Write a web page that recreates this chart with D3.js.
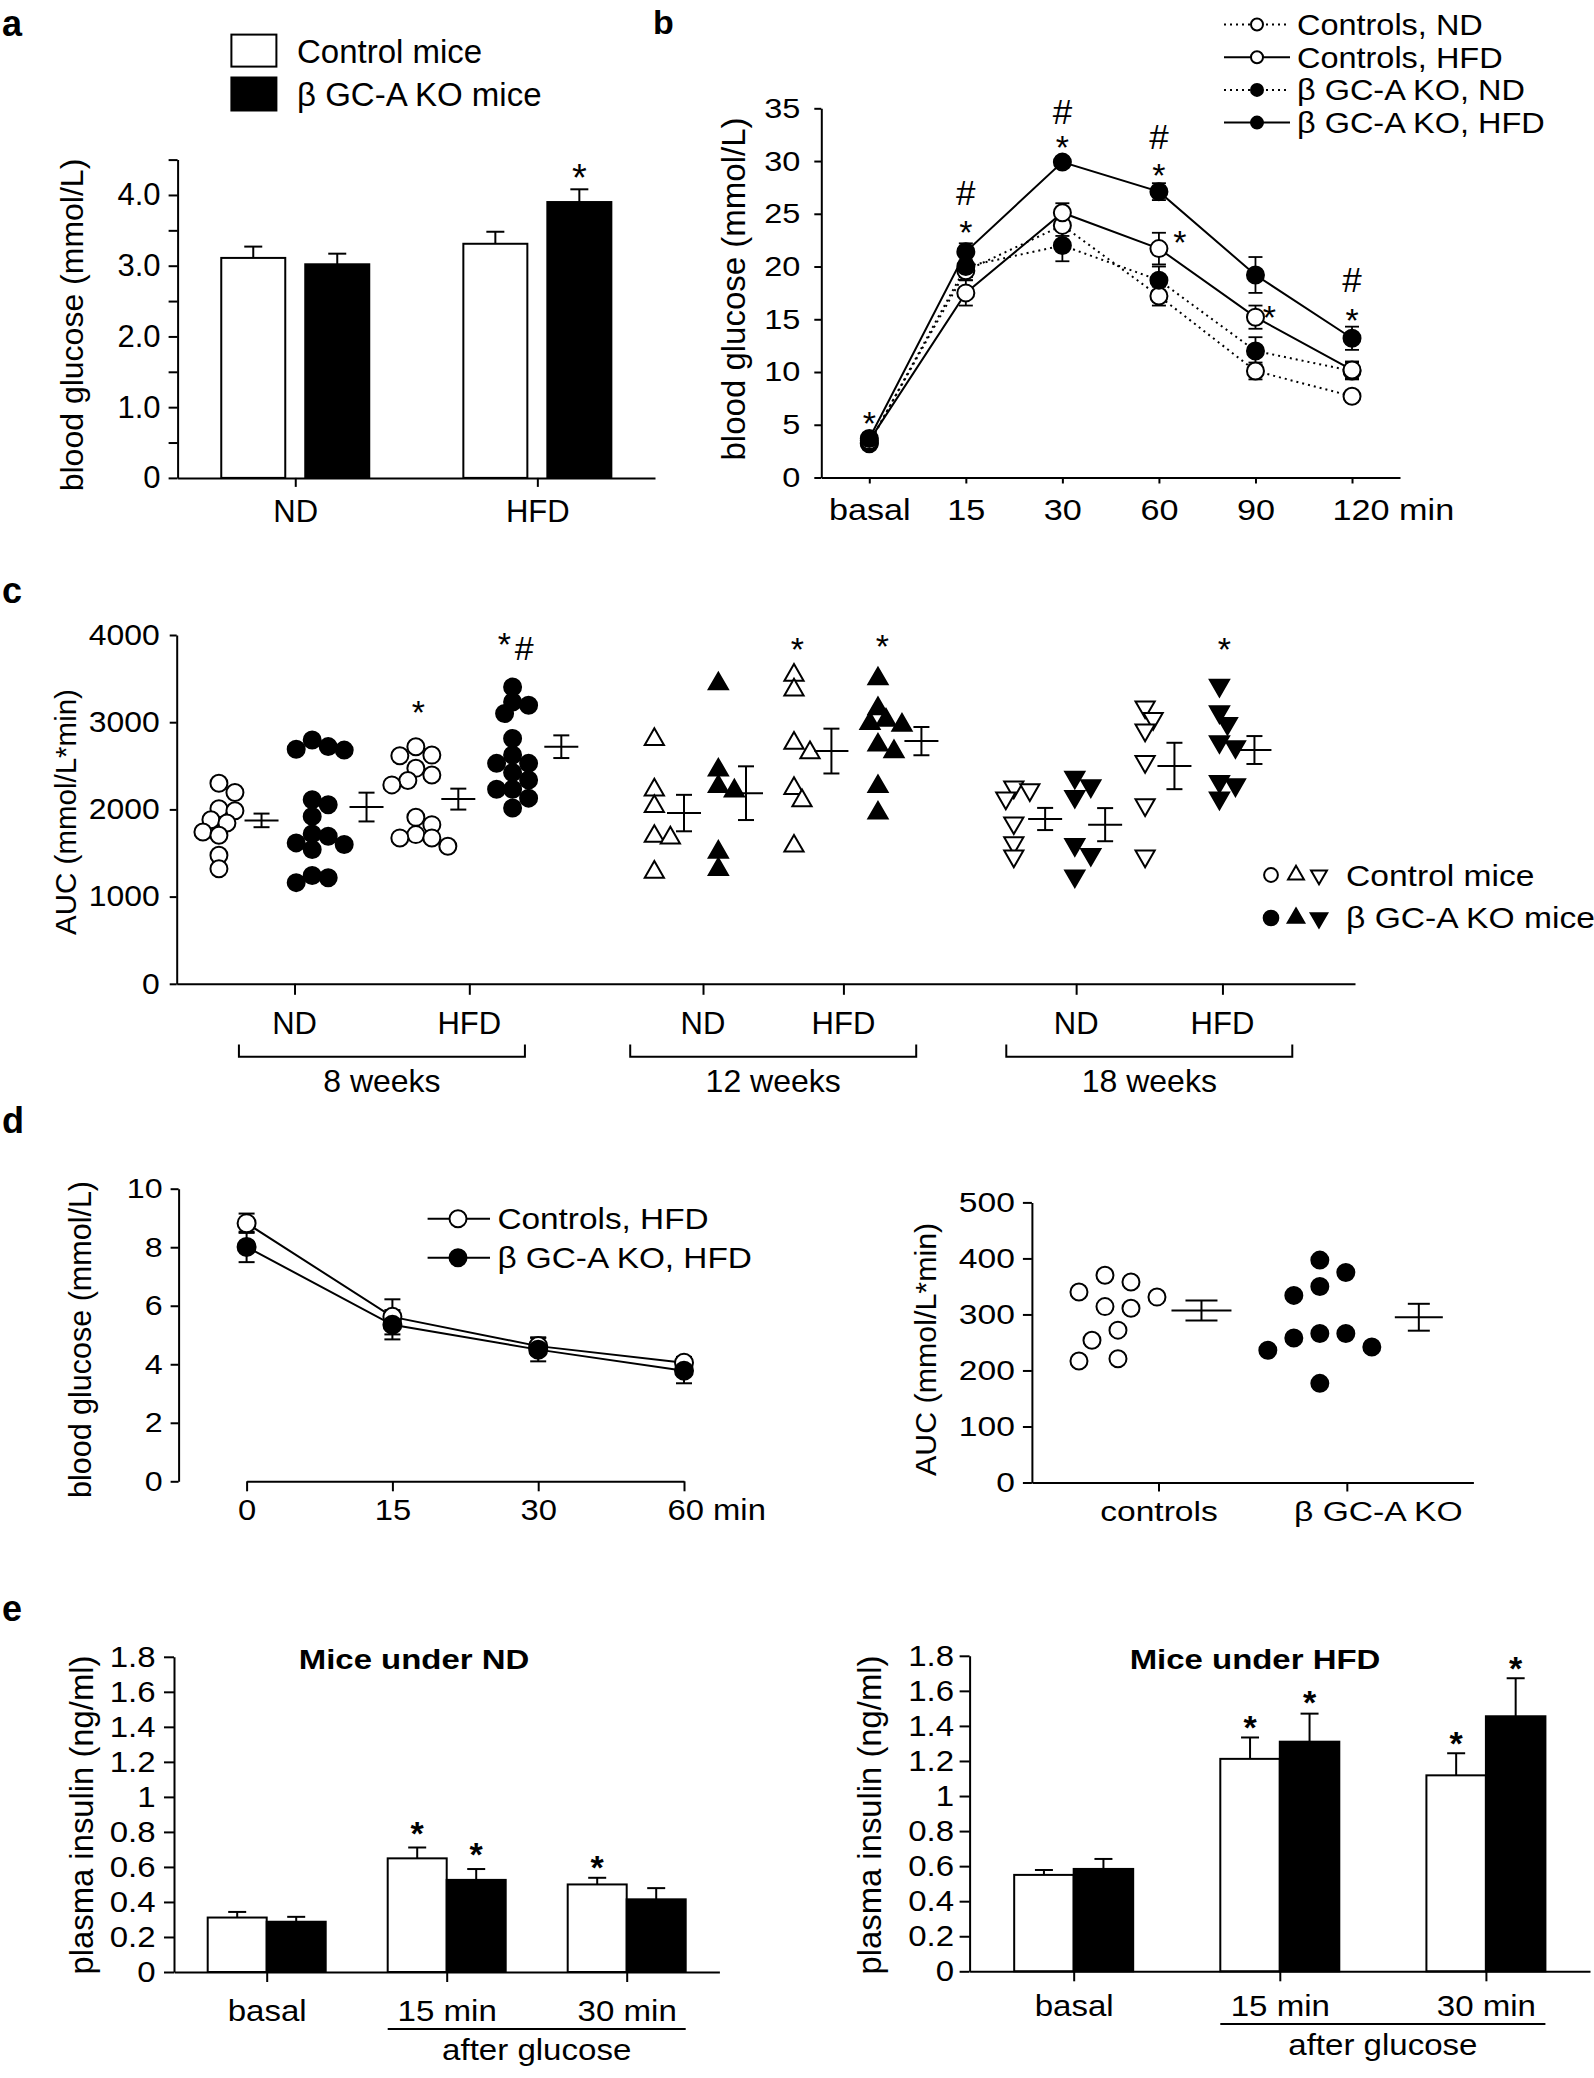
<!DOCTYPE html>
<html>
<head>
<meta charset="utf-8">
<script src="https://cdn.jsdelivr.net/npm/d3@7"></script>
<style>
  html, body { margin: 0; padding: 0; background: #fff; }
  svg { display: block; }
</style>
</head>
<body>
<script>
// ---------------- data ----------------
// a: fasting blood glucose
const dietCats = ["ND", "HFD"];
const aCtrl = [3.11, 3.31];
const aCtrlErr = [0.16, 0.17];
const aKo = [3.02, 3.90];
const aKoErr = [0.15, 0.18];

// b: glucose tolerance test
const ogttTimes = ["basal", "15", "30", "60", "90", "120"];
const bCtrlND = [3.3, 19.6, 23.9, 17.2, 10.1, 7.7];
const bCtrlNDErr = [0.4, 0.9, 1.0, 0.9, 0.8, 0.5];
const bCtrlHFD = [3.5, 17.5, 25.1, 21.7, 15.2, 10.2];
const bCtrlHFDErr = [0.4, 1.2, 0.9, 1.5, 1.1, 0.8];
const bKoND = [3.2, 20.0, 22.0, 18.7, 12.0, 10.1];
const bKoNDErr = [0.4, 1.0, 1.5, 1.3, 1.3, 0.8];
const bKoHFD = [3.7, 21.4, 29.9, 27.1, 19.2, 13.2];
const bKoHFDErr = [0.5, 0.8, 0.5, 0.8, 1.7, 1.1];
const bMarks = [
  ["basal", 6.0, "*"], ["15", 24.1, "*"], ["15", 27.0, "#"],
  ["30", 32.1, "*"], ["30", 34.7, "#"], ["60", 29.5, "*"], ["60", 32.3, "#"],
  ["120", 15.7, "*"], ["120", 18.8, "#"]
];
const bSideMarks = [["60", 23.1, "*"], ["90", 16.0, "*"]];

// c: AUC of GTT per animal
const cGroups = ["ND", "HFD", "ND", "HFD", "ND", "HFD"];
const cWeeks = ["8 weeks", "12 weeks", "18 weeks"];
const cCtrlPts = [
  [2194, 2300, 1882, 1985, 2008, 1844, 1741, 1703, 1475, 1319],
  [2616, 2623, 2719, 2471, 2395, 2281, 2331, 1909, 1825, 1711, 1673, 1673, 1578],
  [2802, 2224, 2034, 1692, 1673, 1281],
  [3540, 3370, 2760, 2650, 2240, 2100, 1580],
  [2224, 2129, 2255, 1844, 1616, 1464],
  [3175, 3042, 2909, 2548, 2053, 1464]
];
const cKoPts = [
  [2795, 2720, 2690, 2680, 2110, 2053, 1920, 1692, 1719, 1616, 1597, 1540, 1243, 1160, 1217],
  [3403, 3232, 3194, 3099, 2814, 2623, 2528, 2528, 2422, 2338, 2232, 2232, 2129, 2015],
  [3441, 2452, 2262, 2213, 1509, 1312],
  [3498, 3156, 3023, 2985, 2966, 2738, 2662, 2262, 1958],
  [2369, 2270, 2148, 1597, 1483, 1236],
  [3422, 3118, 2985, 2776, 2719, 2320, 2281, 2129]
];
const cCtrlMean = [1874, 2118, 1958, 2669, 1890, 2498];
const cCtrlSem = [78, 120, 209, 257, 127, 266];
const cKoMean = [2027, 2719, 2186, 2783, 1825, 2681];
const cKoSem = [165, 130, 308, 162, 190, 160];
// [group index, "ctrl"|"ko", value at glyph centre, symbol]
const cMarks = [[1, "ctrl", 3213, "*"], [3, "ctrl", 3935, "*"], [3, "ko", 3973, "*"], [5, "ko", 3935, "*"]];

// d: insulin tolerance test
const ittTimes = ["0", "15", "30", "60"];
const dCtrl = [8.82, 5.62, 4.62, 4.05];
const dCtrlErr = [0.33, 0.6, 0.3, 0.2];
const dKo = [8.01, 5.35, 4.50, 3.78];
const dKoErr = [0.52, 0.5, 0.4, 0.43];
const dAucCats = ["controls", "β GC-A KO"];
const dAucCtrl = [358, 311, 331, 340, 370, 314, 272, 254, 217, 221];
const dAucKo = [375, 397, 350, 334, 266, 258, 242, 236, 266, 177];
const dAucMean = [307, 295];
const dAucSem = [18, 24];

// e: plasma insulin
const eCats = ["basal", "15 min", "30 min"];
const eNDCtrl = [0.311, 0.649, 0.500];
const eNDCtrlErr = [0.032, 0.062, 0.038];
const eNDKo = [0.287, 0.526, 0.415];
const eNDKoErr = [0.028, 0.062, 0.064];
const eHFDCtrl = [0.550, 1.212, 1.118];
const eHFDCtrlErr = [0.028, 0.122, 0.126];
const eHFDKo = [0.584, 1.310, 1.455];
const eHFDKoErr = [0.057, 0.160, 0.217];
const eNDMarks = [["15 min", "ctrl", 0.843], ["15 min", "ko", 0.72], ["30 min", "ctrl", 0.645]];
const eHFDMarks = [["15 min", "ctrl", 1.442], ["15 min", "ko", 1.583], ["30 min", "ctrl", 1.348], ["30 min", "ko", 1.781]];

// ---------------- setup ----------------
const W = 1594, H = 2078;
const FONT = "'Liberation Sans', Arial, Helvetica, sans-serif";

const svg = d3.select("body").append("svg")
  .attr("width", W).attr("height", H)
  .attr("font-family", FONT);
svg.append("rect").attr("width", W).attr("height", H).attr("fill", "#fff");

function label(g, x, y, s, o = {}) {
  let tr = `translate(${x},${y})`;
  if (o.rot) tr += ` rotate(${o.rot})`;
  if (o.k && o.k !== 1) tr += ` scale(${o.k},1)`;
  return g.append("text")
    .attr("transform", tr)
    .attr("text-anchor", o.anchor || "middle")
    .attr("font-size", o.size || 30)
    .attr("font-weight", o.bold ? "bold" : "normal")
    .attr("fill", "#000")
    .text(s);
}

// symbol centred on a point (glyph centre, not baseline)
function mark(g, x, yc, s, size, bold) {
  const off = s === "#" ? 0.36 : 0.6;
  label(g, x, yc + off * size, s, { size, bold });
}

function styleAxis(ax, size, k) {
  ax.select(".domain").attr("stroke", "#000").attr("stroke-width", 2);
  ax.selectAll(".tick line").attr("stroke", "#000").attr("stroke-width", 2);
  ax.selectAll(".tick text")
    .attr("font-size", size).attr("font-family", FONT).attr("fill", "#000")
    .each(function () {
      const t = d3.select(this);
      if (t.attr("x") != null) t.attr("x", +t.attr("x") / k);
    })
    .attr("transform", `scale(${k},1)`);
}

function leftAxis(g, scale, x, values, fmt, o) {
  const ax = g.append("g").attr("transform", `translate(${x},0)`)
    .call(d3.axisLeft(scale).tickValues(values).tickFormat(fmt)
      .tickSize(o.tick).tickPadding(o.pad).tickSizeOuter(0));
  styleAxis(ax, o.size, o.k);
  return ax;
}

function bottomAxis(g, scale, y, o) {
  let a = d3.axisBottom(scale).tickSize(o.tick).tickPadding(o.pad).tickSizeOuter(0);
  if (o.values) a = a.tickValues(o.values);
  if (o.fmt !== undefined) a = a.tickFormat(o.fmt);
  const ax = g.append("g").attr("transform", `translate(0,${y})`).call(a);
  styleAxis(ax, o.size, o.k);
  return ax;
}

function errBar(g, x, y0, y1, cap, w) {
  g.append("line").attr("x1", x).attr("x2", x).attr("y1", y0).attr("y2", y1)
    .attr("stroke", "#000").attr("stroke-width", w || 2);
  g.append("line").attr("x1", x - cap).attr("x2", x + cap).attr("y1", y1).attr("y2", y1)
    .attr("stroke", "#000").attr("stroke-width", w || 2);
}

function meanSem(g, x, y, m, s, half, cap) {
  const st = l => l.attr("stroke", "#000").attr("stroke-width", 2);
  st(g.append("line").attr("x1", x - half).attr("x2", x + half).attr("y1", y(m)).attr("y2", y(m)));
  st(g.append("line").attr("x1", x).attr("x2", x).attr("y1", y(m - s)).attr("y2", y(m + s)));
  [m - s, m + s].forEach(v =>
    st(g.append("line").attr("x1", x - cap).attr("x2", x + cap).attr("y1", y(v)).attr("y2", y(v))));
}

// simple deterministic beeswarm: returns [{v, y, dx}]
function swarm(vals, y, minDist, step) {
  const pts = vals.map(v => ({ v, y: y(v), dx: 0 })).sort((a, b) => a.y - b.y);
  const placed = [];
  pts.forEach(p => {
    for (let i = 0; i < 60; i++) {
      const dx = (i % 2 ? 1 : -1) * Math.ceil(i / 2) * step;
      if (placed.every(q => Math.hypot(q.dx - dx, q.y - p.y) >= minDist)) { p.dx = dx; break; }
    }
    placed.push(p);
  });
  const m = d3.mean(placed, p => p.dx);
  placed.forEach(p => { p.dx -= m; });
  return placed;
}

function sym(type, area) { return d3.symbol().type(type).size(area)(); }

function drawBars(g, x, sub, y, cats, vals, errs, fill, cap) {
  const bw = sub.bandwidth();
  cats.forEach((c, i) => {
    const x0 = x(c) + sub(fill === "#fff" ? "ctrl" : "ko");
    g.append("rect").attr("x", x0).attr("y", y(vals[i]))
      .attr("width", bw).attr("height", y(0) - y(vals[i]))
      .attr("fill", fill).attr("stroke", "#000").attr("stroke-width", 2);
    errBar(g, x0 + bw / 2, y(vals[i]), y(vals[i] + errs[i]), cap);
  });
}

// ================= panel a =================
const ga = svg.append("g");
const yA = d3.scaleLinear().domain([0, 4.5]).range([477.9, 159.6]);
const xA = d3.scalePoint().domain(dietCats).range([177.6, 655]).padding(0.486);
const subA = d3.scaleBand().domain(["ctrl", "ko"]).range([-74, 74]).paddingInner(0.238);

drawBars(ga, xA, subA, yA, dietCats, aCtrl, aCtrlErr, "#fff", 9);
drawBars(ga, xA, subA, yA, dietCats, aKo, aKoErr, "#000", 9);
leftAxis(ga, yA, 177.6, d3.range(0, 4.51, 0.5),
  d => d % 1 === 0 ? (d === 0 ? "0" : d.toFixed(1)) : "", { tick: 9, pad: 8, size: 31, k: 1 });
bottomAxis(ga, xA, 477.9, { tick: 9, pad: 13, size: 31, k: 1 });
mark(ga, xA("HFD") + subA("ko") + subA.bandwidth() / 2, 168, "*", 38, false);
label(ga, 83, 325, "blood glucose (mmol/L)", { rot: -90, size: 32 });

ga.append("rect").attr("x", 231.4).attr("y", 34.6).attr("width", 45).attr("height", 32)
  .attr("fill", "#fff").attr("stroke", "#000").attr("stroke-width", 2);
ga.append("rect").attr("x", 231.4).attr("y", 77.5).attr("width", 45).attr("height", 33)
  .attr("fill", "#000").attr("stroke", "#000").attr("stroke-width", 2);
label(ga, 297, 62.5, "Control mice", { anchor: "start", size: 33 });
label(ga, 297, 106.4, "β GC-A KO mice", { anchor: "start", size: 33 });
label(svg, 2, 36, "a", { anchor: "start", size: 36, bold: true });

// ================= panel b =================
const gb = svg.append("g");
const yB = d3.scaleLinear().domain([0, 35]).range([477.5, 108.3]);
const xB = d3.scalePoint().domain(ogttTimes).range([821.3, 1400]).padding(0.497);
const bSeries = [
  { name: "Controls, ND", vals: bCtrlND, err: bCtrlNDErr, filled: false, dotted: true },
  { name: "Controls, HFD", vals: bCtrlHFD, err: bCtrlHFDErr, filled: false, dotted: false },
  { name: "β GC-A KO, ND", vals: bKoND, err: bKoNDErr, filled: true, dotted: true },
  { name: "β GC-A KO, HFD", vals: bKoHFD, err: bKoHFDErr, filled: true, dotted: false }
];
const lineB = d3.line().x((d, i) => xB(ogttTimes[i])).y(d => yB(d));
const bDraw = [bSeries[0], bSeries[2], bSeries[1], bSeries[3]];
bDraw.forEach(s => {
  gb.append("path").attr("d", lineB(s.vals)).attr("fill", "none")
    .attr("stroke", "#000").attr("stroke-width", 2)
    .attr("stroke-dasharray", s.dotted ? "2,4" : null);
});
bDraw.forEach(s => {
  s.vals.forEach((v, i) => {
    const x = xB(ogttTimes[i]);
    errBar(gb, x, yB(v), yB(v + s.err[i]), 7, 1.8);
    errBar(gb, x, yB(v), yB(v - s.err[i]), 7, 1.8);
  });
});
bDraw.forEach(s => {
  s.vals.forEach((v, i) => {
    gb.append("circle").attr("cx", xB(ogttTimes[i])).attr("cy", yB(v)).attr("r", 8.5)
      .attr("fill", s.filled ? "#000" : "#fff").attr("stroke", "#000").attr("stroke-width", 2);
  });
});
leftAxis(gb, yB, 821.3, d3.range(0, 36, 5), d3.format("d"), { tick: 7, pad: 14, size: 28, k: 1.16 });
const axB = bottomAxis(gb, xB, 477.5, { tick: 6, pad: 15, size: 30, k: 1.14 });
axB.selectAll(".tick text").filter(d => d === "120")
  .text("120 min").attr("text-anchor", "start").attr("x", -20 / 1.14);
bMarks.forEach(([t, v, s]) => mark(gb, xB(t), yB(v), s, s === "#" ? 35 : 34, false));
bSideMarks.forEach(([t, v, s], i) => mark(gb, xB(t) + (i === 0 ? 21 : 14), yB(v), s, 34, false));
label(gb, 745, 289, "blood glucose (mmol/L)", { rot: -90, size: 33 });

bSeries.forEach((s, i) => {
  const yc = 24.5 + i * 32.7;
  gb.append("line").attr("x1", 1224).attr("x2", 1290).attr("y1", yc).attr("y2", yc)
    .attr("stroke", "#000").attr("stroke-width", 2)
    .attr("stroke-dasharray", s.dotted ? "2,4" : null);
  gb.append("circle").attr("cx", 1257).attr("cy", yc).attr("r", 6)
    .attr("fill", s.filled ? "#000" : "#fff").attr("stroke", "#000").attr("stroke-width", 2);
  label(gb, 1297, yc + 10.5, s.name, { anchor: "start", size: 29, k: 1.12 });
});
label(svg, 653, 34, "b", { anchor: "start", size: 34, bold: true });

// ================= panel c =================
const gc = svg.append("g");
const yC = d3.scaleLinear().domain([0, 4000]).range([983.8, 635]);
const xC = d3.scaleLinear().domain([0, 12]).range([176.7, 1355]);
const cTickU = [1.2, 2.98, 5.36, 6.79, 9.16, 10.65];
// offsets (px) of control points, control mean, KO points, KO mean from each tick
const cOff = [[-74, -33, 23, 72], [-51, -11, 45, 92], [-46, -19, 18, 43],
  [-46, -12, 39, 78], [-61, -31, 4, 29], [-76, -48, 2, 32]];
const cShape = i => i < 2 ? d3.symbolCircle : d3.symbolTriangle;
const cRot = i => i >= 4 ? 180 : 0;

cTickU.forEach((u, i) => {
  const xt = xC(u);
  const area = i < 2 ? Math.PI * 8.5 * 8.5 : 160;
  [[cCtrlPts[i], cOff[i][0], "#fff"], [cKoPts[i], cOff[i][2], "#000"]].forEach(([vals, off, fill]) => {
    swarm(vals, yC, 13, 8).forEach(p => {
      gc.append("path").attr("d", sym(cShape(i), area))
        .attr("transform", `translate(${xt + off + p.dx},${p.y}) rotate(${cRot(i)})`)
        .attr("fill", fill).attr("stroke", "#000").attr("stroke-width", 2);
    });
  });
  meanSem(gc, xt + cOff[i][1], yC, cCtrlMean[i], cCtrlSem[i], 17, 8);
  meanSem(gc, xt + cOff[i][3], yC, cKoMean[i], cKoSem[i], 17, 8);
  label(gc, xt, 1034, cGroups[i], { size: 31 });
});
cMarks.forEach(([gi, who, v, s]) =>
  mark(gc, xC(cTickU[gi]) + cOff[gi][who === "ctrl" ? 0 : 2], yC(v), s, 34, false));
// "*#" above 8-week HFD KO
mark(gc, xC(cTickU[1]) + cOff[1][2] - 10, yC(3990), "*", 34, false);
mark(gc, xC(cTickU[1]) + cOff[1][2] + 10, yC(3850), "#", 34, false);

leftAxis(gc, yC, 176.7, d3.range(0, 4001, 1000), d3.format("d"), { tick: 7, pad: 10, size: 29, k: 1.1 });
bottomAxis(gc, xC, 983.8, { tick: 11, pad: 20, size: 30, k: 1, values: cTickU, fmt: "" });
label(gc, 76, 812, "AUC (mmol/L*min)", { rot: -90, size: 29.5 });

cWeeks.forEach((w, i) => {
  const cx = (xC(cTickU[2 * i]) + xC(cTickU[2 * i + 1])) / 2;
  gc.append("path")
    .attr("d", `M${cx - 143},1044.4V1056.7H${cx + 143}V1044.4`)
    .attr("fill", "none").attr("stroke", "#000").attr("stroke-width", 2);
  label(gc, cx, 1092, w, { size: 32 });
});

// legend c
[[d3.symbolCircle, 0, 1271, 150], [d3.symbolTriangle, 0, 1296, 110], [d3.symbolTriangle, 180, 1319, 110]]
  .forEach(([t, rot, x, a]) => {
    gc.append("path").attr("d", sym(t, a)).attr("transform", `translate(${x},875) rotate(${rot})`)
      .attr("fill", "#fff").attr("stroke", "#000").attr("stroke-width", 2);
    gc.append("path").attr("d", sym(t, a * 1.2)).attr("transform", `translate(${x},918) rotate(${rot})`)
      .attr("fill", "#000").attr("stroke", "#000").attr("stroke-width", 1.5);
  });
label(gc, 1346, 886, "Control mice", { anchor: "start", size: 30, k: 1.12 });
label(gc, 1346, 928, "β GC-A KO mice", { anchor: "start", size: 30, k: 1.12 });
label(svg, 2, 603, "c", { anchor: "start", size: 36, bold: true });

// ================= panel d (left) =================
const gd = svg.append("g");
const yD = d3.scaleLinear().domain([0, 10]).range([1481.3, 1188.7]);
const xD = d3.scalePoint().domain(ittTimes).range([178.6 + 68, 761 - 77]);
const lineD = d3.line().x((d, i) => xD(ittTimes[i])).y(d => yD(d));
const dSeries = [
  { name: "Controls, HFD", vals: dCtrl, err: dCtrlErr, filled: false },
  { name: "β GC-A KO, HFD", vals: dKo, err: dKoErr, filled: true }
];
dSeries.forEach(s => gd.append("path").attr("d", lineD(s.vals)).attr("fill", "none")
  .attr("stroke", "#000").attr("stroke-width", 2));
dSeries.forEach(s => s.vals.forEach((v, i) => {
  errBar(gd, xD(ittTimes[i]), yD(v), yD(v + s.err[i]), 8);
  errBar(gd, xD(ittTimes[i]), yD(v), yD(v - s.err[i]), 8);
}));
dSeries.forEach(s => s.vals.forEach((v, i) => {
  gd.append("circle").attr("cx", xD(ittTimes[i])).attr("cy", yD(v)).attr("r", 9)
    .attr("fill", s.filled ? "#000" : "#fff").attr("stroke", "#000").attr("stroke-width", 2);
}));
leftAxis(gd, yD, 178.6, d3.range(0, 11, 2), d3.format("d"), { tick: 8, pad: 8, size: 28, k: 1.15 });
const axD = bottomAxis(gd, xD, 1481.3, { tick: 10, pad: 8, size: 29, k: 1.13 });
axD.selectAll(".tick text").filter(d => d === "60")
  .text("60 min").attr("text-anchor", "start").attr("x", -17 / 1.13);
label(gd, 91, 1339.5, "blood glucose (mmol/L)", { rot: -90, size: 30.5 });
dSeries.forEach((s, i) => {
  const yc = 1218.7 + i * 39.1;
  gd.append("line").attr("x1", 427.6).attr("x2", 490).attr("y1", yc).attr("y2", yc)
    .attr("stroke", "#000").attr("stroke-width", 2);
  gd.append("circle").attr("cx", 458).attr("cy", yc).attr("r", 8.5)
    .attr("fill", s.filled ? "#000" : "#fff").attr("stroke", "#000").attr("stroke-width", 2);
  label(gd, 497.4, yc + 10.5, s.name, { anchor: "start", size: 29, k: 1.15 });
});
label(svg, 2, 1133, "d", { anchor: "start", size: 36, bold: true });

// ================= panel d (right) =================
const gd2 = svg.append("g");
const yD2 = d3.scaleLinear().domain([0, 500]).range([1482.5, 1202.4]);
const xD2 = d3.scalePoint().domain(dAucCats).range([1031.9, 1473.4]).padding(0.672);
const dOff = [[-47, 43, 30, 16], [-27, 72, 24, 11]];
[dAucCtrl, dAucKo].forEach((vals, i) => {
  const xt = xD2(dAucCats[i]);
  swarm(vals, yD2, 24, 13).forEach(p => {
    gd2.append("circle").attr("cx", xt + dOff[i][0] + p.dx).attr("cy", p.y).attr("r", 8.5)
      .attr("fill", i ? "#000" : "#fff").attr("stroke", "#000").attr("stroke-width", 2);
  });
  meanSem(gd2, xt + dOff[i][1], yD2, dAucMean[i], dAucSem[i], dOff[i][2], dOff[i][3]);
});
leftAxis(gd2, yD2, 1031.9, d3.range(0, 501, 100), d3.format("d"), { tick: 9, pad: 8, size: 28, k: 1.2 });
const axD2 = bottomAxis(gd2, xD2, 1482.5, { tick: 9, pad: 10, size: 28, k: 1.2 });
axD2.selectAll(".tick text").filter(d => d === "β GC-A KO").attr("x", 31 / 1.2);
label(gd2, 936, 1349.4, "AUC (mmol/L*min)", { rot: -90, size: 30.4 });

// ================= panel e =================
function insulinPanel(g, axisX, axisEnd, y0, y18, pad, ctrl, ctrlErr, ko, koErr, marks, o) {
  const y = d3.scaleLinear().domain([0, 1.8]).range([y0, y18]);
  const x = d3.scalePoint().domain(eCats).range([axisX, axisEnd]).padding(pad);
  const sub = d3.scaleBand().domain(["ctrl", "ko"]).range([-o.bw, o.bw]).paddingInner(0);
  drawBars(g, x, sub, y, eCats, ctrl, ctrlErr, "#fff", 9);
  drawBars(g, x, sub, y, eCats, ko, koErr, "#000", 9);
  leftAxis(g, y, axisX, d3.range(0, 1.81, 0.2), d => String(+d.toFixed(1)),
    { tick: 10, pad: o.ypad, size: 30, k: 1.1 });
  bottomAxis(g, x, y0, { tick: 10, pad: o.xpad, size: 29, k: 1.14 });
  marks.forEach(([c, who, v]) =>
    mark(g, x(c) + sub(who) + o.bw / 2, y(v), "*", 34, true));
  label(g, o.titleX, 1669, o.title, { size: 27, bold: true, k: 1.22 });
  const u0 = x("15 min") - o.bw, u1 = x("30 min") + o.bw;
  g.append("line").attr("x1", u0).attr("x2", u1).attr("y1", o.lineY).attr("y2", o.lineY)
    .attr("stroke", "#000").attr("stroke-width", 2);
  label(g, (u0 + u1) / 2, o.lineY + 31, "after glucose", { size: 29, k: 1.14 });
  label(g, o.ylabX, 1815, "plasma insulin (ng/ml)", { rot: -90, size: 32.8 });
}
insulinPanel(svg.append("g"), 174, 719.4, 1972, 1656.8, 0.515,
  eNDCtrl, eNDCtrlErr, eNDKo, eNDKoErr, eNDMarks,
  { bw: 59, ypad: 8.4, xpad: 18, title: "Mice under ND", titleX: 414, lineY: 2029, ylabX: 93 });
insulinPanel(svg.append("g"), 969.6, 1590, 1971.3, 1655.8, 0.505,
  eHFDCtrl, eHFDCtrlErr, eHFDKo, eHFDKoErr, eHFDMarks,
  { bw: 59.5, ypad: 5.5, xpad: 14, title: "Mice under HFD", titleX: 1255, lineY: 2024, ylabX: 881 });
label(svg, 2, 1621, "e", { anchor: "start", size: 36, bold: true });
</script>
</body>
</html>
